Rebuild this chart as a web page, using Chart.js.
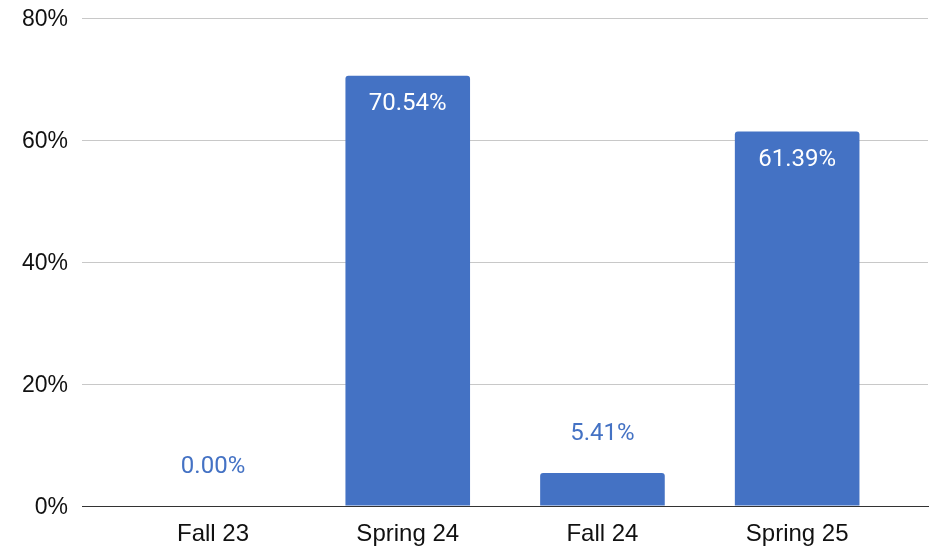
<!DOCTYPE html>
<html>
<head>
<meta charset="utf-8">
<script src="https://cdn.jsdelivr.net/npm/chart.js@4/dist/chart.umd.min.js"></script>
<style>
  html, body { margin: 0; padding: 0; background: #fff; }
  #wrap { width: 930px; height: 548px; position: relative; }
</style>
</head>
<body>
<div id="wrap"><canvas id="chart"></canvas></div>
<script>
// ---- data ----
const categories = ['Fall 23', 'Spring 24', 'Fall 24', 'Spring 25'];
const values = [0.00, 70.54, 5.41, 61.39];
const yTicks = [0, 20, 40, 60, 80];

const BAR_COLOR = '#4472C4';
const AXIS_FONT = "'Liberation Sans', Arial, sans-serif";

// value labels on top of / inside each bar
const barLabels = {
  id: 'barLabels',
  afterDatasetsDraw(chart) {
    const ctx = chart.ctx;
    const meta = chart.getDatasetMeta(0);
    ctx.save();
    ctx.font = '24px Roboto';
    ctx.textAlign = 'center';
    ctx.textBaseline = 'middle';
    meta.data.forEach((bar, i) => {
      const v = values[i];
      const txt = v.toFixed(2) + '%';
      if (v > 15) {
        ctx.fillStyle = '#ffffff';
        ctx.fillText(txt, bar.x, bar.y + 28);
      } else {
        ctx.fillStyle = BAR_COLOR;
        ctx.fillText(txt, bar.x, bar.y - 39);
      }
    });
    ctx.restore();
  }
};

window.onload = () => {
  new Chart(document.getElementById('chart').getContext('2d'), {
    type: 'bar',
    data: {
      datasets: [{
        data: values.map((v, i) => ({ x: i, y: v })),
        backgroundColor: BAR_COLOR,
        borderRadius: { topLeft: 3, topRight: 3, bottomLeft: 0, bottomRight: 0 },
        borderSkipped: 'start',
        barPercentage: 0.8,
        categoryPercentage: 0.8
      }]
    },
    options: {
      responsive: true,
      maintainAspectRatio: false,
      animation: false,
      layout: { padding: { top: 18, right: 2, left: 0, bottom: 0 } },
      plugins: { legend: { display: false }, tooltip: { enabled: false } },
      scales: {
        x: {
          type: 'linear',
          offset: false,
          min: -0.673,
          max: 3.672,
          afterBuildTicks: s => { s.ticks = categories.map((_, i) => ({ value: i })); },
          afterFit: s => { s.height = 42; s.paddingLeft = 0; s.paddingRight = 0; },
          grid: { display: false },
          border: { display: true, color: '#333', width: 1 },
          ticks: {
            callback: v => categories[v],
            font: { family: AXIS_FONT, size: 24 },
            color: '#111',
            padding: 6,
            maxRotation: 0,
            autoSkip: false
          }
        },
        y: {
          min: 0,
          max: 80,
          afterBuildTicks: s => { s.ticks = yTicks.map(v => ({ value: v })); },
          afterFit: s => { s.width = 82; s.paddingTop = 0; s.paddingBottom = 0; },
          border: { display: false },
          grid: {
            color: c => (c.tick && c.tick.value === 0 ? '#333' : '#c8c8c8'),
            lineWidth: 1,
            drawTicks: false
          },
          ticks: {
            callback: v => v + '%',
            font: { family: AXIS_FONT, size: 23 },
            color: '#111',
            padding: 14,
            labelOffset: 2
          }
        }
      }
    },
    plugins: [barLabels]
  });
};
</script>
</body>
</html>
